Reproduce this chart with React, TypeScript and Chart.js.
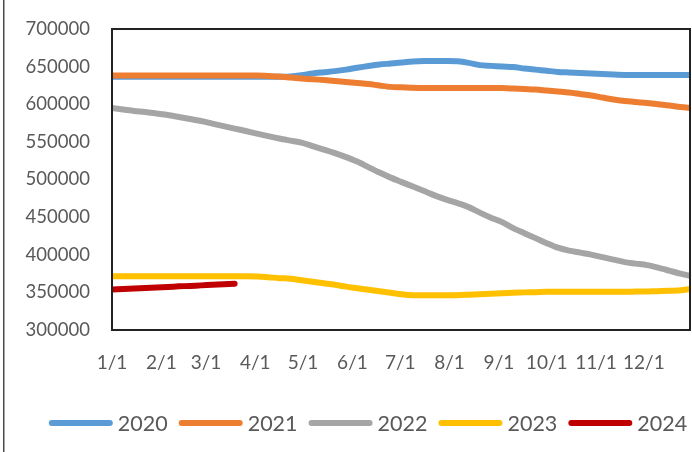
import React, { useEffect, useRef } from "react";
import { Chart, registerables } from "chart.js";

Chart.register(...registerables);

const SERIES_NAMES = ["2020", "2021", "2022", "2023", "2024"];
const SERIES_COLORS = ["#5B9BD5", "#ED7D31", "#A5A5A5", "#FFC000", "#C00000"];
const MONTH_LABELS = ["1/1", "2/1", "3/1", "4/1", "5/1", "6/1", "7/1", "8/1", "9/1", "10/1", "11/1", "12/1"];
const MONTH_DAYS = [0, 31, 59, 90, 120, 151, 181, 212, 243, 273, 304, 334];
const WEEK_DAYS = [
  0, 7, 14, 21, 28, 35, 42, 49, 56, 63, 70, 77, 84, 91, 98, 105, 112, 119, 126, 133, 140, 147, 154, 161, 168, 175,
  182, 189, 196, 203, 210, 217, 224, 231, 238, 245, 252, 259, 266, 273, 280, 287, 294, 301, 308, 315, 322, 329, 336,
  343, 350, 357, 364,
];

const S2020 = [
  636500, 636500, 636500, 636500, 636500, 636500, 636500, 636500, 636500, 636500, 636500, 636500, 636500, 636500,
  636500, 636500, 636800, 638500, 641000, 642500, 644000, 646000, 648500, 650800, 652800, 654100, 655500, 656800,
  657400, 657400, 657400, 657000, 655000, 652000, 651000, 650100, 649500, 647500, 646000, 644500, 643000, 642200,
  641500, 640800, 640200, 639500, 639000, 639000, 639000, 639000, 639000, 639000, 639000,
];
const S2021 = [
  638200, 638200, 638200, 638200, 638200, 638200, 638200, 638200, 638200, 638200, 638200, 638200, 638200, 638200,
  637500, 636800, 635500, 634200, 633200, 632200, 630900, 629500, 628200, 626900, 624900, 623100, 622500, 621800,
  621500, 621500, 621500, 621500, 621500, 621500, 621500, 621500, 620900, 620200, 619500, 618200, 616900, 615600,
  613600, 611600, 608900, 606200, 604300, 602900, 601600, 599900, 598300, 596300, 595000,
];
const S2022 = [
  594900, 593000, 591000, 589600, 587600, 585600, 583000, 580300, 577700, 574300, 571000, 567700, 564400, 561000,
  557700, 554400, 551700, 549100, 544400, 539800, 535100, 529800, 523800, 516500, 509200, 502500, 496500, 490600,
  484600, 478600, 473300, 468600, 463300, 456000, 449300, 443400, 435400, 428700, 422100, 415400, 409400, 405500,
  402800, 400100, 396800, 393500, 390200, 388200, 386200, 382800, 378900, 374900, 371500,
];
const S2023 = [
  371500, 371500, 371500, 371500, 371500, 371500, 371500, 371500, 371500, 371500, 371500, 371500, 371500, 371100,
  370200, 368900, 368200, 366200, 364200, 362200, 360200, 357600, 355600, 353600, 351600, 349600, 347600, 346300,
  346300, 346300, 346300, 346300, 346900, 347600, 348300, 348900, 349600, 350000, 350300, 350700, 350700, 350700,
  350700, 350700, 350700, 350700, 350700, 351000, 351300, 351600, 352000, 352900, 354900,
];
const S2024 = [353900, 354500, 355200, 355800, 356500, 357200, 358000, 358600, 359300, 360100, 360900, 361500];

const Y_MIN = 300000;
const Y_MAX = 700000;
const Y_STEP = 50000;

export default function App() {
  const ref = useRef<HTMLCanvasElement>(null);

  useEffect(() => {
    if (!ref.current) return;
    const series = [S2020, S2021, S2022, S2023, S2024];
    const datasets = series.map((vals, i) => ({
      label: SERIES_NAMES[i],
      data: vals.map((v, j) => ({ x: WEEK_DAYS[j], y: v })),
      borderColor: SERIES_COLORS[i],
      backgroundColor: SERIES_COLORS[i],
      borderWidth: 6,
      borderCapStyle: "round" as const,
      borderJoinStyle: "round" as const,
      pointRadius: 0,
      tension: 0.3,
      clip: 0,
      order: series.length - i,
    }));

    const framePlugin = {
      id: "frame",
      beforeDraw(chart: any) {
        const { ctx, width, height } = chart;
        ctx.save();
        ctx.fillStyle = "#ffffff";
        ctx.fillRect(0, 0, width, height);
        ctx.fillStyle = "#4a4a4a";
        ctx.fillRect(3, 0, 1.5, height);
        ctx.restore();
      },
      afterDatasetsDraw(chart: any) {
        const { ctx, chartArea } = chart;
        ctx.save();
        ctx.strokeStyle = "#222222";
        ctx.lineWidth = 2;
        ctx.strokeRect(chartArea.left, chartArea.top, chartArea.right - chartArea.left, chartArea.bottom - chartArea.top);
        ctx.restore();
      },
      afterDraw(chart: any) {
        const ctx = chart.ctx;
        ctx.save();
        ctx.font = "21.5px Lato";
        const sample = 64;
        const gap1 = 5;
        const gap2 = 11;
        const items = chart.data.datasets.map((ds: any) => ({
          label: ds.label,
          color: ds.borderColor,
          w: ctx.measureText(ds.label).width,
        }));
        const total =
          items.reduce((a: number, it: any) => a + sample + gap1 + it.w, 0) + gap2 * (items.length - 1);
        let x = 368 - total / 2;
        const y = 423;
        items.forEach((it: any) => {
          ctx.strokeStyle = it.color;
          ctx.lineWidth = 6;
          ctx.lineCap = "round";
          ctx.beginPath();
          ctx.moveTo(x + 3, y);
          ctx.lineTo(x + sample - 3, y);
          ctx.stroke();
          ctx.fillStyle = "#595959";
          ctx.textBaseline = "middle";
          ctx.textAlign = "left";
          ctx.fillText(it.label, x + sample + gap1, y + 1);
          x += sample + gap1 + it.w + gap2;
        });
        ctx.restore();
      },
    };

    const chart = new Chart(ref.current, {
      type: "line",
      data: { datasets: datasets as any },
      options: {
        animation: false,
        responsive: false,
        devicePixelRatio: 1,
        layout: { padding: { top: 29, right: 2, left: 0, bottom: 0 } },
        plugins: { legend: { display: false }, tooltip: { enabled: false } },
        scales: {
          x: {
            type: "linear",
            min: 0,
            max: 363,
            grid: { display: false, drawTicks: false },
            border: { display: false },
            afterBuildTicks: (s: any) => {
              s.ticks = MONTH_DAYS.map((v) => ({ value: v }));
            },
            afterFit: (s: any) => {
              s.height = 122;
            },
            ticks: {
              autoSkip: false,
              maxRotation: 0,
              padding: 21,
              color: "#595959",
              font: { family: "Lato", size: 19 },
              callback: (_v: any, i: number) => MONTH_LABELS[i],
            },
          },
          y: {
            min: Y_MIN,
            max: Y_MAX,
            grid: { display: false, drawTicks: false },
            border: { display: false },
            afterFit: (s: any) => {
              s.width = 112;
              s.paddingTop = 0;
              s.paddingBottom = 0;
            },
            ticks: {
              stepSize: Y_STEP,
              padding: 22,
              color: "#595959",
              font: { family: "Lato", size: 18.5 },
              callback: (v: any) => String(v),
            },
          },
        },
      },
      plugins: [framePlugin],
    });
    return () => chart.destroy();
  }, []);

  return (
    <div style={{ position: "fixed", left: 0, top: 0, width: 692, height: 452, background: "#fff" }}>
      <canvas ref={ref} width={692} height={452} style={{ display: "block", width: 692, height: 452 }} />
    </div>
  );
}
